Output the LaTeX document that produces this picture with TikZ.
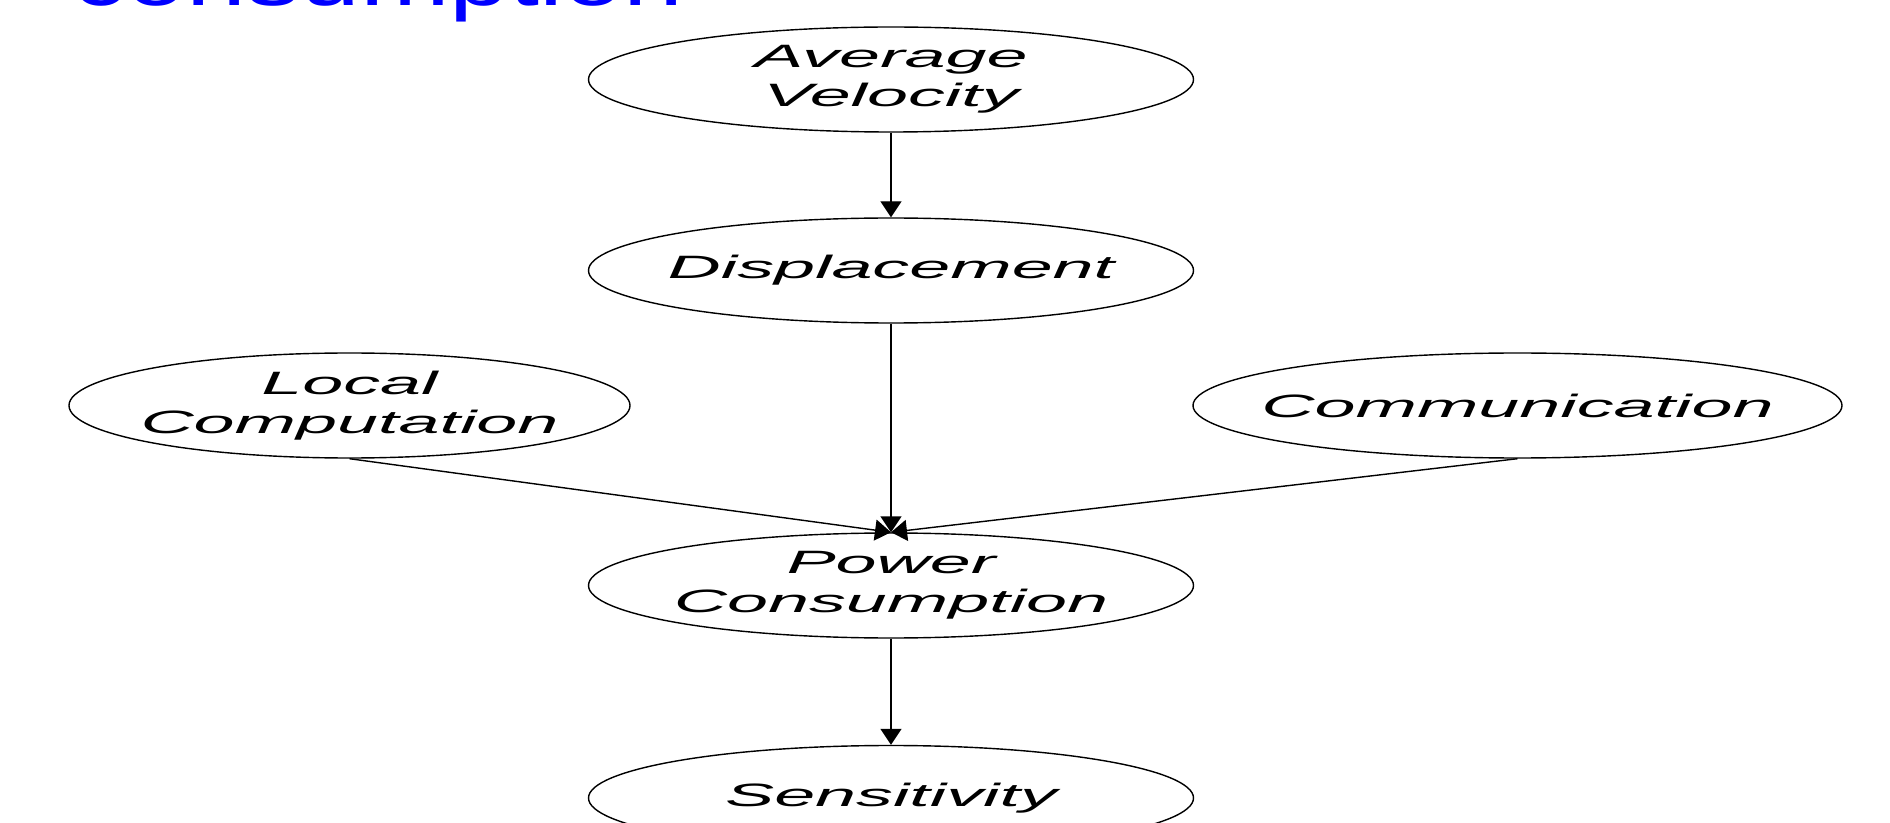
\documentclass[tikz,border=0pt]{standalone}
\usepackage{fontspec}
\setmainfont{Liberation Sans}
\newfontfamily\boxfont[FakeStretch=2.28]{Liberation Sans}
\newfontfamily\titlefont[FakeStretch=1.35]{Liberation Sans}
\usetikzlibrary{shapes.geometric,arrows.meta}

\begin{document}
\begin{tikzpicture}[
  factor/.style={ellipse,draw,line width=0.4pt,minimum width=6.05cm,minimum height=1.05cm,
                 inner xsep=-1.5cm,inner ysep=0pt,align=center,
                 font=\boxfont\itshape\fontsize{9.2}{11}\selectfont},
  arr/.style={-{Triangle[length=1.6mm,width=2.1mm]},line width=0.4pt},
]
\useasboundingbox (0,0) rectangle (18.9,-8.23);

% Title (cut off at the top)
\node[anchor=base west,inner sep=0pt,text=blue,font=\titlefont\fontsize{22.7}{26}\selectfont] (title) at (0.72,-0.06) {consumption};

% Factors
\node[factor] (avg) at (8.91,-0.795) {Average\\Velocity};
\node[factor] (disp) at (8.91,-2.705) {Displacement};
\node[factor,minimum width=5.61cm] (local) at (3.495,-4.055) {Local\\Computation};
\node[factor,minimum width=6.49cm] (comm) at (15.175,-4.055) {Communication};
\node[factor] (power) at (8.91,-5.855) {Power\\Consumption};
\node[factor] (sens) at (8.91,-7.98) {Sensitivity};

% Arrows
\draw[arr] (avg) -- (disp);
\draw[arr] (disp) -- (power.north);
\draw[arr] (local.south) -- (power.north);
\draw[arr] (comm.south) -- (power.north);
\draw[arr] (power) -- (sens);

\end{tikzpicture}
\end{document}
